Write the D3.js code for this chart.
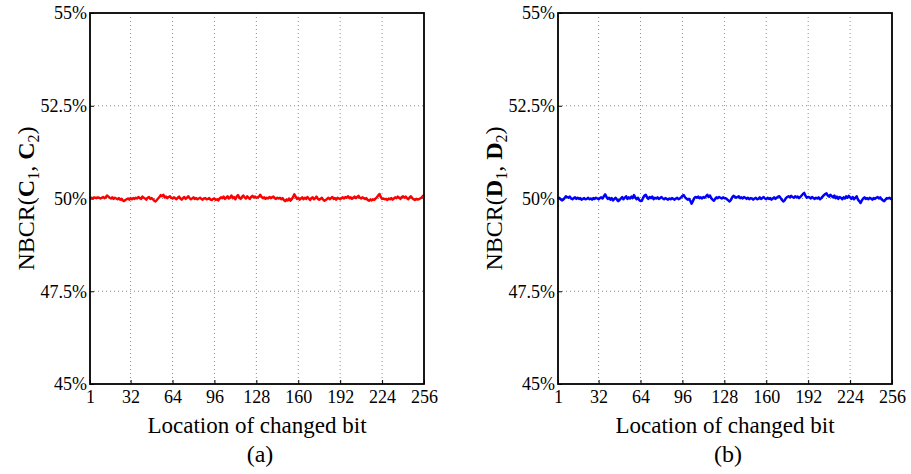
<!DOCTYPE html>
<html>
<head>
<meta charset="utf-8">
<script src="https://cdn.jsdelivr.net/npm/d3@7"></script>
<style>
  body { margin: 0; background: #fff; }
  svg text { font-family: "Liberation Serif", "Times New Roman", serif; }
</style>
</head>
<body>
<div id="chart"></div>
<script>
// NBCR values (%) for each changed bit position 1..256
const nbcrC = [
    50.01, 50.02, 50.00, 50.03, 50.02, 50.01, 50.03, 50.02, 50.00, 50.02, 50.04, 50.01, 50.03, 50.08, 50.05, 50.02,
    50.00, 50.03, 49.99, 50.02, 50.00, 49.98, 50.01, 49.97, 49.99, 49.95, 49.93, 49.96, 49.98, 50.00, 49.97, 50.01,
    49.98, 50.01, 49.99, 50.02, 50.00, 50.04, 50.01, 49.99, 50.05, 50.02, 50.00, 49.97, 50.02, 50.04, 49.99, 50.01,
    49.98, 49.94, 49.92, 49.96, 50.00, 50.04, 50.09, 50.06, 50.10, 50.03, 50.05, 50.01, 50.04, 50.06, 50.02, 50.00,
    50.03, 50.01, 49.98, 50.02, 50.05, 50.00, 49.97, 50.01, 50.04, 49.99, 50.02, 50.06, 50.01, 49.98, 50.00, 50.03,
    49.99, 50.01, 49.98, 50.00, 50.02, 49.99, 49.97, 50.00, 50.01, 49.98, 49.99, 50.01, 49.97, 49.96, 49.99, 50.00,
    49.96, 49.98, 49.95, 50.00, 50.03, 50.01, 50.05, 49.99, 50.02, 50.06, 50.00, 50.03, 50.08, 50.01, 50.04, 49.98,
    50.05, 50.09, 50.02, 49.99, 50.04, 50.08, 50.03, 50.00, 50.06, 50.02, 49.99, 50.04, 50.07, 50.03, 50.05, 50.02,
    50.03, 50.05, 50.10, 50.04, 50.01, 50.03, 49.99, 50.02, 50.00, 50.04, 50.01, 50.03, 50.05, 50.01, 49.99, 50.02,
    50.00, 50.02, 49.98, 50.01, 49.96, 49.93, 49.97, 49.95, 50.00, 49.94, 49.98, 50.04, 50.11, 50.05, 49.99, 50.02,
    49.97, 50.00, 50.03, 49.98, 50.02, 49.99, 50.04, 50.00, 49.96, 50.01, 50.03, 49.98, 50.01, 50.05, 49.99, 49.97,
    49.99, 50.02, 49.97, 49.94, 49.96, 49.99, 50.02, 49.98, 50.01, 50.04, 49.99, 50.01, 49.97, 50.02, 50.00, 49.98,
    50.01, 50.03, 50.00, 50.04, 50.02, 50.06, 50.01, 50.03, 49.99, 50.02, 50.05, 50.01, 50.04, 50.07, 50.02, 50.00,
    50.03, 50.01, 49.99, 50.01, 49.96, 49.94, 49.97, 49.95, 49.98, 49.96, 50.00, 50.03, 50.08, 50.12, 50.04, 49.99,
    50.00, 49.98, 49.99, 49.96, 50.00, 49.98, 50.01, 49.97, 50.00, 50.03, 50.01, 50.05, 50.02, 49.99, 50.04, 50.06,
    50.02, 50.05, 50.01, 49.98, 50.03, 50.06, 50.01, 49.98, 49.96, 49.99, 49.97, 49.98, 50.00, 50.02, 50.06, 50.09
];

const nbcrD = [
    50.00, 50.02, 49.98, 49.95, 49.97, 50.01, 50.06, 50.04, 50.02, 50.05, 50.00, 49.98, 50.01, 50.03, 49.99, 50.02,
    49.99, 50.01, 49.97, 49.99, 50.01, 49.98, 49.99, 50.02, 49.98, 50.00, 49.97, 50.01, 49.99, 50.02, 50.00, 49.98,
    50.01, 50.03, 50.00, 50.06, 50.11, 50.04, 49.99, 50.02, 49.97, 50.01, 49.95, 49.99, 50.02, 49.97, 49.93, 49.96,
    50.00, 50.04, 49.98, 50.02, 50.06, 49.99, 50.03, 50.00, 50.05, 50.01, 50.09, 50.03, 49.98, 50.02, 49.96, 49.93,
    49.94, 50.02, 50.08, 50.10, 50.03, 49.99, 50.04, 50.01, 50.05, 49.98, 50.02, 50.00, 50.03, 49.99, 50.01, 50.04,
    50.00, 49.98, 50.01, 49.99, 49.97, 50.00, 49.98, 50.01, 49.99, 49.97, 50.00, 50.02, 49.98, 50.00, 50.03, 50.07,
    50.09, 50.03, 50.00, 49.97, 49.99, 49.94, 49.86, 49.93, 50.01, 50.04, 50.02, 50.05, 50.01, 50.03, 50.00, 50.04,
    50.02, 50.06, 50.10, 50.04, 50.08, 50.01, 49.97, 49.94, 49.99, 50.03, 50.01, 50.04, 50.02, 50.00, 50.03, 50.01,
    50.01, 49.98, 49.95, 49.92, 49.96, 50.03, 50.07, 50.05, 50.02, 50.04, 50.06, 50.01, 50.03, 50.00, 50.04, 50.02,
    49.99, 50.02, 49.98, 50.01, 50.00, 49.97, 50.00, 50.02, 49.98, 49.99, 50.03, 49.99, 50.01, 50.04, 50.00, 49.98,
    50.02, 49.99, 50.01, 49.97, 50.00, 50.03, 49.99, 50.02, 50.05, 50.06, 50.01, 49.96, 49.92, 49.95, 50.01, 50.04,
    50.06, 50.03, 50.07, 50.04, 50.02, 50.06, 50.03, 50.05, 50.01, 50.04, 50.08, 50.12, 50.15, 50.07, 50.02, 50.04,
    50.03, 50.00, 50.04, 50.01, 49.99, 50.02, 50.00, 50.03, 49.98, 50.01, 50.05, 50.09, 50.12, 50.14, 50.08, 50.05,
    50.10, 50.06, 50.03, 50.08, 50.01, 50.05, 49.99, 50.04, 50.02, 49.98, 50.03, 50.00, 50.06, 50.02, 50.07, 50.03,
    49.99, 50.04, 49.98, 50.02, 50.06, 49.97, 49.93, 49.88, 49.95, 50.00, 50.03, 49.99, 50.01, 49.98, 50.02, 50.00,
    49.97, 50.01, 49.99, 50.02, 50.04, 50.00, 50.03, 49.98, 49.95, 49.93, 49.97, 50.01, 50.00, 50.02, 49.99, 50.01
];

const xTicks = [1, 32, 64, 96, 128, 160, 192, 224, 256];
const yTicks = [45, 47.5, 50, 52.5, 55];
const yTickLabels = ["45%", "47.5%", "50%", "52.5%", "55%"];

const width = 911, height = 474;

const svg = d3.select("#chart")
    .append("svg")
    .attr("width", width)
    .attr("height", height);

const panels = [
    { values: nbcrC, left: 90, color: "#ff0000", letter: "C", caption: "(a)" },
    { values: nbcrD, left: 558, color: "#0000ff", letter: "D", caption: "(b)" }
];

const plotW = 334, plotTop = 13, plotBottom = 384;

panels.forEach(p => {
    const x = d3.scaleLinear().domain([1, 256]).range([p.left, p.left + plotW]);
    const y = d3.scaleLinear().domain([45, 55]).range([plotBottom, plotTop]);

    const g = svg.append("g");

    // dotted grid
    g.selectAll(".vgrid")
        .data(xTicks.slice(1, -1))
        .enter()
        .append("line")
        .attr("x1", d => x(d)).attr("x2", d => x(d))
        .attr("y1", plotTop).attr("y2", plotBottom)
        .attr("stroke", "#8c8c8c")
        .attr("stroke-width", 1)
        .attr("stroke-dasharray", "1,3");

    g.selectAll(".hgrid")
        .data(yTicks.slice(1, -1))
        .enter()
        .append("line")
        .attr("x1", p.left).attr("x2", p.left + plotW)
        .attr("y1", d => y(d)).attr("y2", d => y(d))
        .attr("stroke", "#8c8c8c")
        .attr("stroke-width", 1)
        .attr("stroke-dasharray", "1,3");

    // axes (ticks inside, like matlab)
    const xAxis = d3.axisBottom(x).tickValues(xTicks).tickSizeInner(-4).tickSizeOuter(0).tickPadding(6);
    const yAxis = d3.axisLeft(y).tickValues(yTicks).tickSizeInner(-4).tickSizeOuter(0).tickPadding(3)
        .tickFormat((d, i) => yTickLabels[i]);

    const gx = g.append("g").attr("transform", `translate(0,${plotBottom})`).call(xAxis);
    const gy = g.append("g").attr("transform", `translate(${p.left},0)`).call(yAxis);
    [gx, gy].forEach(a => {
        a.select(".domain").remove();
        a.selectAll("line").attr("stroke", "#000");
        a.selectAll("text")
            .style("font-family", "'Liberation Serif', serif")
            .style("font-size", "18px")
            .attr("fill", "#000");
    });
    gx.selectAll("text").attr("dy", "0.71em");

    // line
    const line = d3.line()
        .x((d, i) => x(i + 1))
        .y(d => y(d));

    g.append("path")
        .datum(p.values)
        .attr("fill", "none")
        .attr("stroke", p.color)
        .attr("stroke-width", 2.5)
        .attr("stroke-linejoin", "round")
        .attr("d", line);

    // frame
    g.append("rect")
        .attr("x", p.left).attr("y", plotTop)
        .attr("width", plotW).attr("height", plotBottom - plotTop)
        .attr("fill", "none")
        .attr("stroke", "#000")
        .attr("stroke-width", 1.8);

    const cx = p.left + plotW / 2;

    g.append("text")
        .attr("x", cx).attr("y", 433)
        .attr("text-anchor", "middle")
        .style("font-size", "23px")
        .text("Location of changed bit");

    g.append("text")
        .attr("x", cx + 3).attr("y", 462)
        .attr("text-anchor", "middle")
        .style("font-size", "24px")
        .text(p.caption);

    // y label NBCR(X1, X2)
    const yl = g.append("text")
        .attr("transform", `translate(${p.left - 56},${(plotTop + plotBottom) / 2}) rotate(-90)`)
        .attr("text-anchor", "middle")
        .style("font-size", "24px");
    yl.append("tspan").text("NBCR(");
    yl.append("tspan").style("font-weight", "bold").text(p.letter);
    yl.append("tspan").attr("dy", 5).style("font-size", "16px").text("1");
    yl.append("tspan").attr("dy", -5).text(", ");
    yl.append("tspan").style("font-weight", "bold").text(p.letter);
    yl.append("tspan").attr("dy", 5).style("font-size", "16px").text("2");
    yl.append("tspan").attr("dy", -5).text(")");
});
</script>
</body>
</html>
